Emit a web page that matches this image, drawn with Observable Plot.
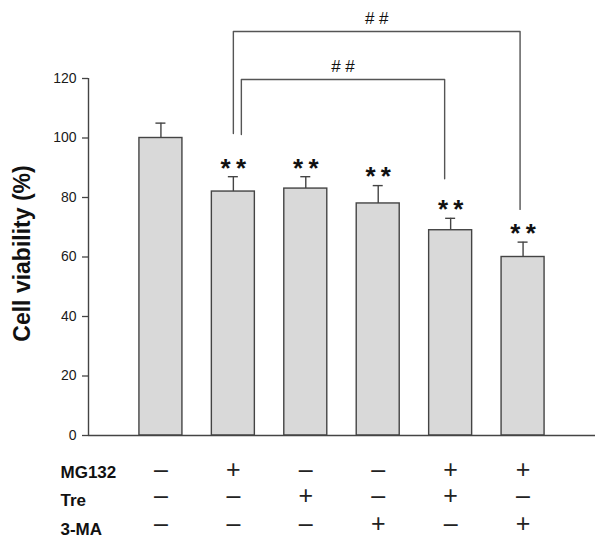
<!DOCTYPE html>
<html><head><meta charset="utf-8">
<script src="https://cdn.jsdelivr.net/npm/d3@7"></script>
<script src="https://cdn.jsdelivr.net/npm/@observablehq/plot@0.6"></script>
<style>body{margin:0;background:#fff} svg{display:block}</style>
</head><body><div id="chart"></div>
<script>
// ---- data ----
const groups = [1, 2, 3, 4, 5, 6];
const viability = [100, 82, 83, 78, 69, 60];
const errors = [5, 5, 4, 6, 4, 5];
const stars = [0, 2, 2, 2, 2, 2];
const treatments = ["MG132", "Tre", "3-MA"];
const mg132 = [0, 1, 0, 0, 1, 1];
const tre = [0, 0, 1, 0, 1, 0];
const ma3 = [0, 0, 0, 1, 0, 1];
const comparisons = [
  {from: 2, to: 6, label: "# #"},
  {from: 2, to: 5, label: "# #"}
];
const yTicks = [0, 20, 40, 60, 80, 100, 120];
const yLabel = "Cell viability (%)";

// ---- layout helpers ----
const W = 602, H = 540, mL = 88, mR = 7, mT = 78, mB = 105;
const pxPerY = (H - mB - mT) / 120;          // pixels per y unit
const pxPerX = (W - mL - mR) / 7;            // pixels per x unit
const yOfPx = px => (H - mB - px) / pxPerY;  // convert a screen row to y units
const xOfPx = px => (px - mL) / pxPerX;

const bars = groups.map((g, i) => ({g, v: viability[i], e: errors[i], top: viability[i] + errors[i], n: stars[i]}));
const halfW = 21.5 / pxPerX, capW = 5 / pxPerX;

// brackets: nested comparisons
const bracketStyle = [
  {level: yOfPx(31), dl: 0, dr: -3 / pxPerX, gapL: 14.5, gapR: 11},
  {level: yOfPx(79), dl: 8 / pxPerX, dr: -6 / pxPerX, gapL: 14.2, gapR: 13.3}
];
const bracketPts = [];
const bracketLabels = [];
comparisons.forEach((c, k) => {
  const st = bracketStyle[k];
  const a = bars[c.from - 1], b = bars[c.to - 1];
  const xl = a.g + st.dl, xr = b.g + st.dr;
  bracketPts.push(
    {k, x: xl, y: a.top + st.gapL},
    {k, x: xl, y: st.level},
    {k, x: xr, y: st.level},
    {k, x: xr, y: b.top + st.gapR}
  );
  bracketLabels.push({x: (xl + xr) / 2, y: st.level, label: c.label});
});

// treatment table
const rows = [mg132, tre, ma3];
const labelRowPx = [472, 500, 529];
const signRowPx = [469, 495, 523.5];
const labelRows = treatments.map((t, r) => ({t, x: xOfPx(60), y: yOfPx(labelRowPx[r])}));
const signs = [];
rows.forEach((row, r) => row.forEach((on, i) => signs.push({x: groups[i], y: yOfPx(signRowPx[r]), s: on ? "+" : "\u2013"})));

const starBars = bars.filter(d => d.n === 2);
const font = "'Liberation Sans', Arial, Helvetica, sans-serif";
const ink = "#444";

const chart = Plot.plot({
  width: W, height: H,
  marginLeft: mL, marginRight: mR, marginTop: mT, marginBottom: mB,
  x: {domain: [0, 7], axis: null},
  y: {domain: [0, 120], axis: null},
  style: {fontFamily: font, background: "#fff", overflow: "visible"},
  marks: [
    Plot.axisY(yTicks, {tickSize: 6, tickPadding: 6, fontSize: 14, stroke: ink, strokeWidth: 1.3, fill: "#1a1a1a", label: null}),
    Plot.rectY(bars, {x1: d => d.g - halfW, x2: d => d.g + halfW, y1: 0, y2: "v", fill: "#d9d9d9", stroke: ink, strokeWidth: 1.4}),
    Plot.ruleX(bars, {x: "g", y1: "v", y2: "top", stroke: ink, strokeWidth: 1.4}),
    Plot.ruleY(bars, {y: "top", x1: d => d.g - capW, x2: d => d.g + capW, stroke: ink, strokeWidth: 1.4}),
    Plot.ruleX([0], {stroke: ink, strokeWidth: 1.4}),
    Plot.ruleY([0], {stroke: ink, strokeWidth: 1.4}),
    Plot.text(starBars, {x: "g", y: "top", text: () => "*", dx: -7.7, dy: -8.5, fontSize: 26, fontWeight: "bold", fill: "#111"}),
    Plot.text(starBars, {x: "g", y: "top", text: () => "*", dx: 7.7, dy: -8.5, fontSize: 26, fontWeight: "bold", fill: "#111"}),
    Plot.line(bracketPts, {x: "x", y: "y", z: "k", stroke: "#555", strokeWidth: 1.4}),
    Plot.text(bracketLabels, {x: "x", y: "y", text: "label", dy: -12.5, fontSize: 17, fill: "#111"}),
    Plot.text([yLabel], {x: xOfPx(22), y: yOfPx(253), text: d => d, rotate: -90, fontSize: 23, fontWeight: "bold", fill: "#111"}),
    Plot.text(labelRows, {x: "x", y: "y", text: "t", textAnchor: "start", fontSize: 17, fontWeight: "bold", fill: "#111"}),
    Plot.text(signs, {x: "x", y: "y", text: "s", fontSize: 25, fill: "#222"})
  ]
});
document.getElementById("chart").appendChild(chart);
</script>
</body></html>
